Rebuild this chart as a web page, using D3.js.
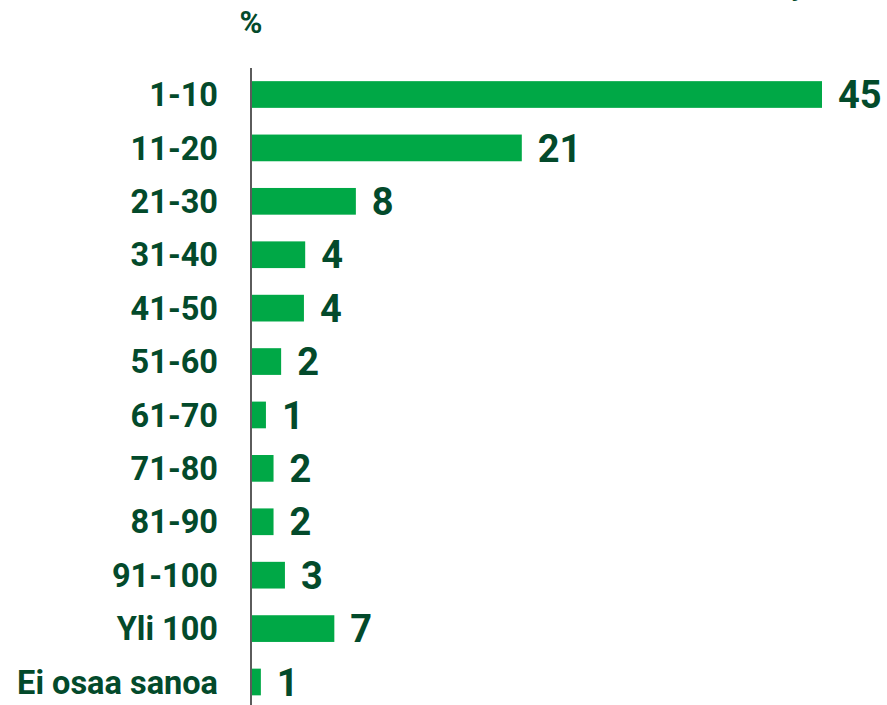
<!DOCTYPE html>
<html><head><meta charset="utf-8">
<script src="https://cdn.jsdelivr.net/npm/d3@7"></script>
<style>html,body{margin:0;padding:0;background:#fff;}svg{display:block;}</style>
</head><body>
<script>
const categories = ["1-10","11-20","21-30","31-40","41-50","51-60","61-70","71-80","81-90","91-100","Yli 100","Ei osaa sanoa"];
const values = [45, 21.3, 8.2, 4.2, 4.1, 2.3, 1.1, 1.7, 1.7, 2.6, 6.5, 0.7];
const unitLabel = "%";

const W = 887, H = 705;
const textColor = "#034a2b", barColor = "#00a846";
const svg = d3.select("body").append("svg").attr("width", W).attr("height", H);

const x = d3.scaleLinear().domain([0, 45]).range([252, 822]);
const y = d3.scaleBand().domain(categories).range([67.8, 708.7]).paddingInner(0.5).paddingOuter(0.25);

// cut-off title descender at top (as in the reference)
svg.append("text").attr("x", 806).attr("y", -5).attr("text-anchor", "end")
  .attr("font-family", "Roboto").attr("font-weight", 700).attr("font-size", 30)
  .attr("fill", textColor).text("y");

svg.append("text").attr("x", 251).attr("y", 33).attr("text-anchor", "middle")
  .attr("font-family", "Roboto").attr("font-weight", 700).attr("font-size", 31)
  .attr("fill", textColor).text(unitLabel);

svg.selectAll("rect.bar").data(values).join("rect").attr("class", "bar")
  .attr("x", x(0)).attr("y", (d, i) => y(categories[i]))
  .attr("width", d => x(d) - x(0)).attr("height", y.bandwidth())
  .attr("fill", barColor);

const yAxis = svg.append("g").attr("transform", `translate(251,0)`)
  .call(d3.axisLeft(y).tickSize(0).tickPadding(33));
yAxis.select(".domain").attr("stroke", "#333").attr("stroke-width", 1.6).attr("d", `M0,68V705`);
yAxis.selectAll("text").attr("font-family", "Roboto").attr("font-weight", 700)
  .attr("font-size", 32.5).attr("fill", textColor).attr("dy", "0.36em");

svg.selectAll("text.val").data(values).join("text").attr("class", "val")
  .attr("x", d => x(d) + 16).attr("y", (d, i) => y(categories[i]) + y.bandwidth() / 2)
  .attr("dy", "0.36em")
  .attr("font-family", "Roboto").attr("font-weight", 700).attr("font-size", 38)
  .attr("fill", textColor).text(d => d3.format(".0f")(d));
</script>
</body></html>
